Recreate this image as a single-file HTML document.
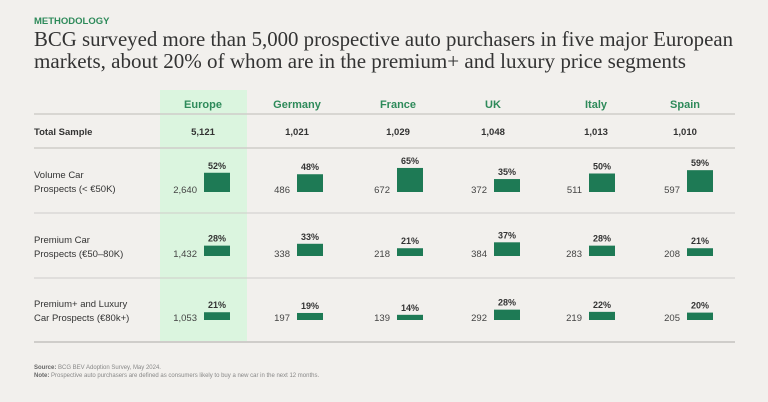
<!DOCTYPE html>
<html><head><meta charset="utf-8"><style>
html,body{margin:0;padding:0;background:#f2f0ed;}
svg{display:block;font-family:"Liberation Sans",sans-serif;}
</style></head><body>
<svg id="chart" width="768" height="402" viewBox="0 0 768 402">
<rect x="0" y="0" width="768" height="402" fill="#f2f0ed"/>
<text x="34" y="24" font-size="9.5" font-weight="bold" fill="#2e8a5a">METHODOLOGY</text>
<text x="34" y="46" font-family="Liberation Serif, serif" font-size="21" fill="#333" textLength="699" lengthAdjust="spacingAndGlyphs">BCG surveyed more than 5,000 prospective auto purchasers in five major European</text>
<text x="34" y="68" font-family="Liberation Serif, serif" font-size="21" fill="#333" textLength="652" lengthAdjust="spacingAndGlyphs">markets, about 20% of whom are in the premium+ and luxury price segments</text>
<rect x="160" y="90" width="87" height="252" fill="#dbf5df"/>
<g id="lines"></g>
<g id="marks"></g>
<text x="34" y="369" font-size="6" fill="#888"><tspan font-weight="bold" fill="#666">Source:</tspan> BCG BEV Adoption Survey, May 2024.</text>
<text x="34" y="377" font-size="6" fill="#888"><tspan font-weight="bold" fill="#666">Note:</tspan> Prospective auto purchasers are defined as consumers likely to buy a new car in the next 12 months.</text>
</svg>
<script>
const markets = ["Europe","Germany","France","UK","Italy","Spain"];
const totals = ["5,121","1,021","1,029","1,048","1,013","1,010"];
const volumeCounts = ["2,640","486","672","372","511","597"];
const volumePct = [52,48,65,35,50,59];
const premiumCounts = ["1,432","338","218","384","283","208"];
const premiumPct = [28,33,21,37,28,21];
const luxuryCounts = ["1,053","197","139","292","219","205"];
const luxuryPct = [21,19,14,28,22,20];

const NS="http://www.w3.org/2000/svg";
const svg=document.getElementById('chart');
const gl=document.getElementById('lines');
const gm=document.getElementById('marks');
const colCenter=[203,297,398,493,596,685];
const barLeft=[204,297,397,494,589,687];
const barW=26;
const hScale=p=>p*0.37;
function el(tag,attrs,parent,txt){const e=document.createElementNS(NS,tag);for(const k in attrs)e.setAttribute(k,attrs[k]);if(txt!==undefined)e.textContent=txt;parent.appendChild(e);return e;}

[[114,1.5],[148,1.5],[213,1],[278,1],[342,2]].forEach((l,i)=>{
  const ln=el('line',{x1:34,x2:735,y1:l[0],y2:l[0],stroke:'#cfcdca','stroke-width':l[1]},gl);
  
  
});

markets.forEach((m,i)=>{
  const t=el('text',{x:colCenter[i],y:108,'text-anchor':'middle','font-size':11,'font-weight':'bold',fill:'#2e8a5a'},gm,m);
  
  
  const s=el('text',{x:colCenter[i],y:135,'text-anchor':'middle','font-size':9.5,'font-weight':'bold',fill:'#333'},gm,totals[i]);
  
  
});
const tl=el('text',{x:34,y:135,'font-size':9.5,'font-weight':'bold',fill:'#333'},gm,'Total Sample');



const rows=[
 {labels:['Volume Car','Prospects (< €50K)'],ly:[178,192],base:192,counts:volumeCounts,pct:volumePct},
 {labels:['Premium Car','Prospects (€50–80K)'],ly:[243,257],base:256,counts:premiumCounts,pct:premiumPct},
 {labels:['Premium+ and Luxury','Car Prospects (€80k+)'],ly:[307,321],base:320,counts:luxuryCounts,pct:luxuryPct}
];
rows.forEach(r=>{
  r.labels.forEach((lb,j)=>{
    const t=el('text',{x:34,y:r.ly[j],'font-size':9.5,fill:'#333'},gm,lb);
    
    
  });
  markets.forEach((m,i)=>{
    const h=hScale(r.pct[i]);
    const b=el('rect',{x:barLeft[i],y:r.base-h,width:barW,height:h,fill:'#1e7a55'},gm);
    
    
    const p=el('text',{x:barLeft[i]+barW/2,y:r.base-h-4,'text-anchor':'middle','font-size':9,'font-weight':'bold',fill:'#333'},gm,r.pct[i]+'%');
    
    
    const c=el('text',{x:barLeft[i]-7,y:r.base+1,'text-anchor':'end','font-size':9.5,fill:'#444'},gm,r.counts[i]);
    
    
  });
});
</script>
</body></html>
